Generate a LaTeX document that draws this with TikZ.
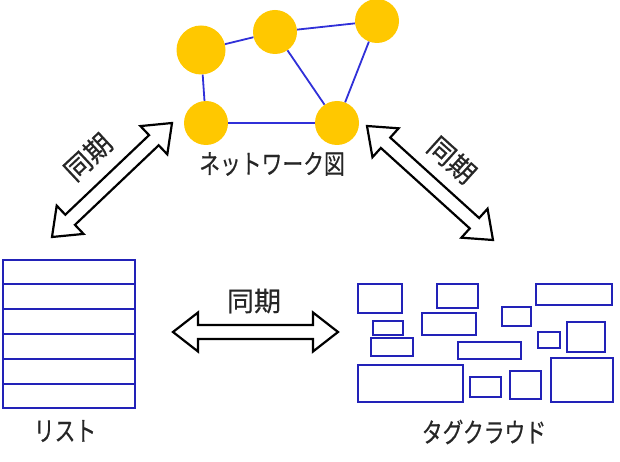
\documentclass[tikz,border=0pt]{standalone}
\usepackage{fontspec}
\newfontfamily\jpfont[FakeBold=0.4]{Noto Sans CJK JP}
\usetikzlibrary{calc}
\definecolor{netyellow}{HTML}{FFC800}
\definecolor{netblue}{HTML}{3030D8}
\definecolor{boxblue}{HTML}{2222B8}
\definecolor{labelgray}{HTML}{262626}
\newcommand{\syncarrow}[2]{%
  \path ($(#1)!25pt!(#2)$) coordinate (ha) ($(#2)!25pt!(#1)$) coordinate (hb);
  \draw[syncline] (#1) -- ($(ha)!19.5pt!90:(#2)$) -- ($(ha)!7pt!90:(#2)$)
    -- ($(hb)!7pt!-90:(#1)$) -- ($(hb)!19.5pt!-90:(#1)$) -- (#2)
    -- ($(hb)!19.5pt!90:(#1)$) -- ($(hb)!7pt!90:(#1)$)
    -- ($(ha)!7pt!-90:(#2)$) -- ($(ha)!19.5pt!-90:(#2)$) -- cycle;
}
\begin{document}
\begin{tikzpicture}[x=1pt,y=-1pt,
  netnode/.style={circle,fill=netyellow,draw=none,inner sep=0pt,minimum size=#1},
  netedge/.style={draw=netblue,line width=1.8pt},
  listbox/.style={draw=boxblue,line width=2pt,minimum width=132pt,minimum height=148pt,inner sep=0pt},
  listline/.style={draw=boxblue,line width=2.2pt},
  tagbox/.style={draw=boxblue,line width=2.4pt},
  syncline/.style={draw=black,line width=2.2pt,line join=miter,fill=white},
  lbl/.style={font=\jpfont\fontsize{27}{31}\selectfont,text=labelgray,inner sep=0pt,xscale=0.77},
  synclbl/.style={font=\jpfont\fontsize{27}{30}\selectfont,text=labelgray,inner sep=0pt}]
\useasboundingbox (0,0) rectangle (620,462);

% network
\node[netnode=49pt] (c1) at (201,50) {};
\node[netnode=44pt] (c2) at (275,32) {};
\node[netnode=44pt] (c3) at (377,21) {};
\node[netnode=44pt] (c4) at (206,123) {};
\node[netnode=44pt] (c5) at (337,123) {};
\draw[netedge] (c1) -- (c2);
\draw[netedge] (c2) -- (c3);
\draw[netedge] (c1) -- (c4);
\draw[netedge] (c4) -- (c5);
\draw[netedge] (c2) -- (c5);
\draw[netedge] (c3) -- (c5);
\node[lbl] (netlbl) at (272,164) {ネットワーク図};

% list
\node[listbox,anchor=north west] (list) at (2,259) {};
\foreach \i in {1,...,5} {
  \draw[listline] ($(list.north west)!\i/6!(list.south west)$) -- ($(list.north east)!\i/6!(list.south east)$);
}
\node[lbl] (listlbl) at (65,431) {リスト};

% tag cloud
\draw[tagbox] (358,284) rectangle (402,313);
\draw[tagbox] (437,284) rectangle (478,308);
\draw[tagbox] (536,284) rectangle (612,305);
\draw[tagbox] (373,321) rectangle (403,335);
\draw[tagbox] (422,313) rectangle (476,335);
\draw[tagbox] (502,307) rectangle (531,326);
\draw[tagbox] (371,338) rectangle (413,356);
\draw[tagbox] (458,342) rectangle (521,359);
\draw[tagbox] (538,332) rectangle (560,348);
\draw[tagbox] (567,322) rectangle (605,352);
\draw[tagbox] (358,365) rectangle (463,402);
\draw[tagbox] (470,377) rectangle (501,397);
\draw[tagbox] (510,371) rectangle (541,399);
\draw[tagbox] (551,358) rectangle (613,402);
\node[lbl] (taglbl) at (484,432) {タグクラウド};

% sync arrows
\coordinate (la) at (52,237);
\coordinate (lb) at (172,123);
\coordinate (ra) at (367,126);
\coordinate (rb) at (493,240);
\coordinate (ha1) at (173,332);
\coordinate (hb1) at (338,332);
\syncarrow{la}{lb}
\syncarrow{ra}{rb}
\syncarrow{ha1}{hb1}
\node[synclbl,rotate=43] (sl) at (88,157) {同期};
\node[synclbl,rotate=-42] (sr) at (452,160) {同期};
\node[synclbl] (sh) at (254,301) {同期};
\end{tikzpicture}
\end{document}
